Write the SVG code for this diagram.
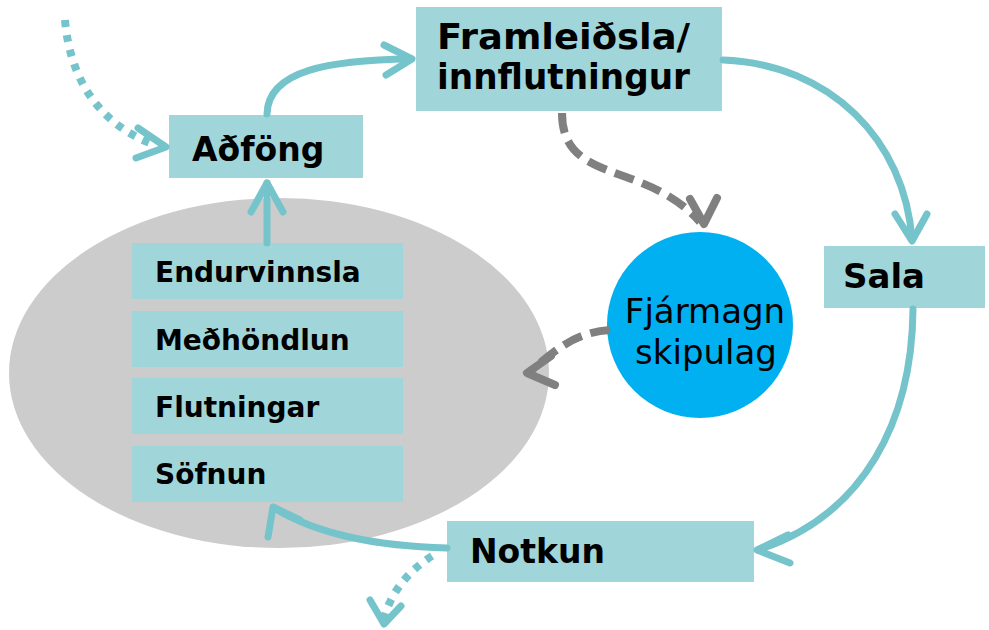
<svg xmlns="http://www.w3.org/2000/svg" width="989" height="630" viewBox="0 0 989 630">
<defs>
<style>
.box{fill:#A0D5DA;}
.lbl{font-family:"DejaVu Sans",Verdana,sans-serif;font-weight:bold;fill:#000;}
.big{font-size:33px;}
.small{font-size:28px;}
.teal{fill:none;stroke:#76C4CB;stroke-width:7;stroke-linecap:round;stroke-linejoin:round;}
.dot{fill:none;stroke:#76C4CB;stroke-width:8;stroke-dasharray:7 8;}
.gray{fill:none;stroke:#808080;stroke-width:8;stroke-dasharray:20 9;}
.grayhead{fill:none;stroke:#808080;stroke-width:8;stroke-linecap:round;stroke-linejoin:round;}
.circ{font-family:"DejaVu Sans",Verdana,sans-serif;font-size:34px;fill:#000;text-anchor:middle;}
</style>
</defs>
<rect width="989" height="630" fill="#fff"/>
<g id="ellipse-group">
<ellipse cx="279" cy="373" rx="270" ry="175" fill="#CCCCCC"/>
</g>
<g id="endurvinnsla"><rect class="box" x="132" y="243" width="271" height="56"/><text class="lbl small" x="155" y="282">Endurvinnsla</text></g>
<g id="medhondlun"><rect class="box" x="132" y="311" width="271" height="56"/><text class="lbl small" x="155" y="350">Meðhöndlun</text></g>
<g id="flutningar"><rect class="box" x="132" y="378" width="271" height="56"/><text class="lbl small" x="155" y="417">Flutningar</text></g>
<g id="sofnun"><rect class="box" x="132" y="446" width="271" height="56"/><text class="lbl small" x="155" y="484">Söfnun</text></g>
<g id="adfong"><rect class="box" x="169" y="115" width="194" height="63"/><text class="lbl big" x="192" y="161">Aðföng</text></g>
<g id="framleidsla"><rect class="box" x="416" y="7" width="306" height="104"/><text class="lbl" font-size="35" x="437" y="49" textLength="253" lengthAdjust="spacingAndGlyphs">Framleiðsla/</text><text class="lbl" font-size="35" x="437" y="89" textLength="253" lengthAdjust="spacingAndGlyphs">innflutningur</text></g>
<g id="sala"><rect class="box" x="824" y="246" width="161" height="62"/><text class="lbl" font-size="34" x="843" y="288">Sala</text></g>
<g id="notkun"><rect class="box" x="447" y="521" width="307" height="61"/><text class="lbl big" x="470" y="563">Notkun</text></g>
<g id="fjarmagn"><circle cx="700" cy="325" r="93" fill="#00B0F0"/><text class="circ" x="705" y="323">Fjármagn</text><text class="circ" x="706" y="364">skipulag</text></g>
<g id="connectors">
<path class="teal" d="M267 114 C268 70 330 60 411 59"/>
<path class="teal" d="M384 45 L412 59 L386 75"/>
<path class="teal" d="M723 60 C830 64 905 140 912 240"/>
<path class="teal" d="M895 214 L912 241 L927 214"/>
<path class="teal" d="M913 309 C912 420 865 515 758 550"/>
<path class="teal" d="M788 535 L757 550 L790 563"/>
<path class="teal" d="M447 548 C380 546 320 536 274 508"/>
<path class="teal" d="M268 537 L273 507 L300 520"/>
<path class="teal" d="M267 243 L267 183"/>
<path class="teal" d="M251 212 L267 183 L283 212"/>
<path class="dot" d="M65 20 C70 80 100 125 155 145"/>
<path class="teal" d="M138 128 L166 147 L136 158"/>
<path class="dot" d="M432 556 C410 570 392 590 384 618"/>
<path class="teal" d="M370 600 L384 624 L401 606"/>
<path class="gray" d="M562 113 C562 185 645 160 700 222"/>
<path class="grayhead" d="M690 199 L704 224 L717 198"/>
<path class="gray" d="M610 330 C580 332 560 345 532 370"/>
<path class="grayhead" d="M551 356 L527 373 L555 385"/>
</g>
</svg>
